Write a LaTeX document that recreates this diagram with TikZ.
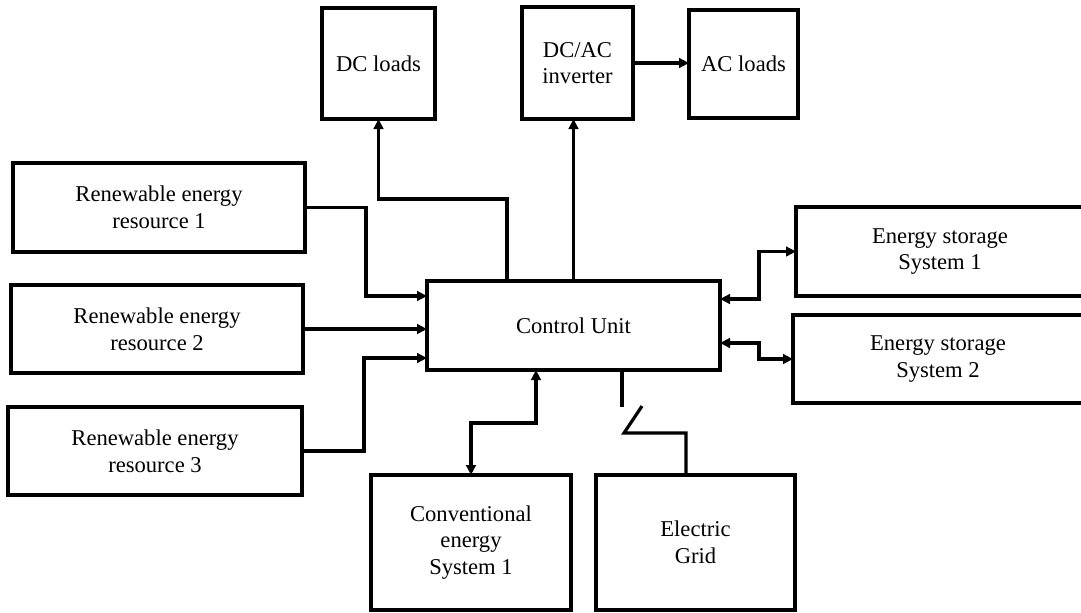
\documentclass[tikz,border=0pt]{standalone}
\usepackage{fontspec}
\setmainfont{Liberation Serif}
\usetikzlibrary{arrows.meta}

\begin{document}
\begin{tikzpicture}[x=0.5pt, y=-0.5pt, line width=1.6pt,
  >={Triangle[length=5pt,width=4.8pt]},
  box/.style={draw, align=center, inner sep=0pt, outer sep=0pt,
    font=\fontsize{11.3}{13.3}\selectfont}]
\path[use as bounding box, clip] (0,0) rectangle (1081,612);
\node[box, minimum width=56.5pt, minimum height=55.5pt] (dcload) at (378.5,63.5) {DC loads};
\node[box, minimum width=55.5pt, minimum height=56pt] (inverter) at (577.5,63) {DC/AC\\inverter};
\node[box, minimum width=54.5pt, minimum height=54pt] (acload) at (743.5,64) {AC loads};
\node[box, minimum width=146pt, minimum height=44.5pt] (res1) at (159,207.5) {Renewable energy\\resource 1};
\node[box, minimum width=146pt, minimum height=44pt] (res2) at (157,329) {Renewable energy\\resource 2};
\node[box, minimum width=147pt, minimum height=44pt] (res3) at (155,451) {Renewable energy\\resource 3};
\node[box, minimum width=146.5pt, minimum height=44.5pt] (ctrl) at (573.5,325.5) {Control Unit};
\node[box, minimum width=144pt, minimum height=44.5pt] (es1) at (940,251.5) {Energy storage\\System 1};
\node[box, minimum width=145pt, minimum height=44pt] (es2) at (938,359) {Energy storage\\System 2};
\node[box, minimum width=100pt, minimum height=67.5pt] (conv) at (471,542.5) {Conventional\\energy\\System 1};
\node[box, minimum width=99.5pt, minimum height=67.5pt] (grid) at (695.5,542.5) {Electric\\Grid};
% loads
\draw[->] ([xshift=-33.25pt]ctrl.north) -- ++(0,-82) -| (dcload.south);
\draw[->] (ctrl.north) -- (ctrl.north |- inverter.south);
\draw[->] (inverter.east) -- (inverter.east -| acload.west);
% sources
\draw[->] (res1.east) -- ++(61,0) |- ([yshift=14.75pt]ctrl.west);
\draw[->] (res2.east) -- (res2.east -| ctrl.west);
\draw[->] (res3.east) -- ++(62,0) |- ([yshift=-16.25pt]ctrl.west);
% storage
\draw[<->] ([yshift=13.25pt]ctrl.east) -- ++(39,0) |- (es1.west);
\draw[<->] ([yshift=-8.75pt]ctrl.east) -- ++(39,0) |- (es2.west);
% conventional and grid
\draw[<->] (conv.north) -- ++(0,-52) -| ([xshift=-18.75pt]ctrl.south);
\draw ([xshift=24.25pt]ctrl.south) -- ++(0,37);
\draw ([xshift=-4.75pt]grid.north) -- ++(0,-42) -- ++(-62,0) -- ++(18,-27);
\end{tikzpicture}
\end{document}
